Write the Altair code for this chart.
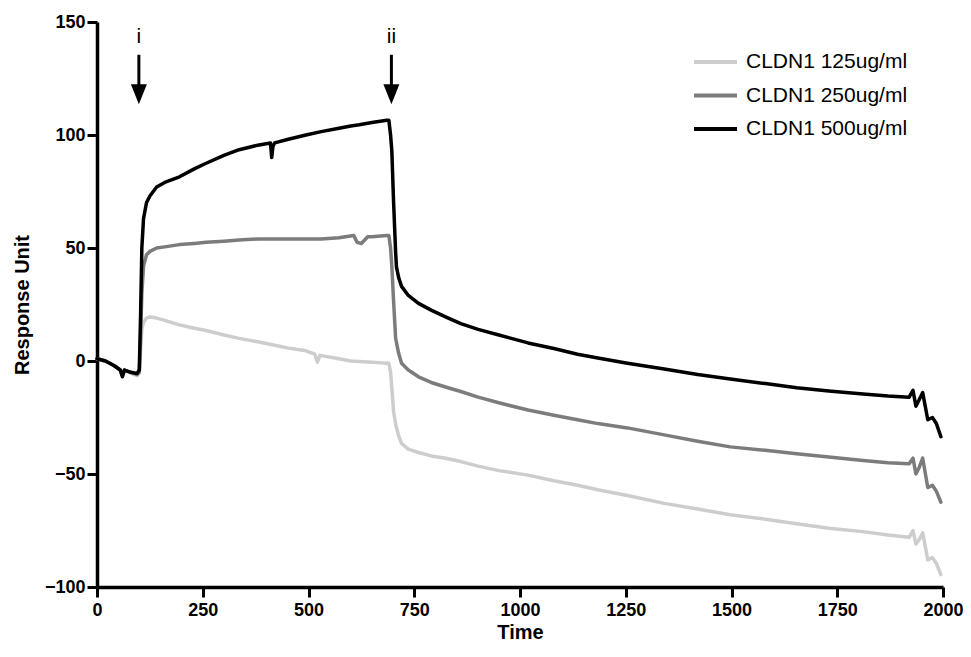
import altair as alt
import pandas as pd

SERIES = ["CLDN1 125ug/ml", "CLDN1 250ug/ml", "CLDN1 500ug/ml"]
COLORS = ["#cdcdcd", "#7c7c7c", "#000000"]

t125 = [0, 20, 40, 55, 60, 65, 80, 95, 100, 103, 106, 110, 117, 125, 141, 160, 195, 230, 258, 300,
        336, 380, 420, 450, 494, 515, 521, 527, 572, 600, 650, 685, 690, 694, 697, 701, 706, 713, 720, 736,
        760, 790, 824, 860, 901, 950, 1019, 1080, 1136, 1184, 1254, 1341, 1420, 1497, 1580, 1654, 1730, 1811, 1870, 1920,
        1929, 1936, 1944, 1952, 1964, 1975, 1984, 1995]
v125 = [1, 0, -2, -4, -6, -4, -5.5, -6.5, -5, 5, 14, 17, 19, 19.5, 19, 18, 16, 14.5, 13.5, 11.5,
        10, 8.5, 7, 5.8, 4.5, 3, -0.5, 2.5, 1, 0, -0.5, -1, -1, -5, -12, -22, -28, -33, -36.5, -39,
        -40.5, -42, -43, -44.5, -46.5, -48.5, -50.5, -53, -55, -57, -59.5, -63, -65.5, -68, -70, -72, -74, -75.5, -77, -78,
        -75, -81, -79, -76, -88, -87, -89.5, -94.5]

t250 = [0, 20, 40, 55, 60, 65, 80, 95, 100, 103, 106, 110, 117, 125, 141, 160, 195, 230, 258, 300,
        336, 380, 420, 450, 494, 530, 572, 607, 615, 625, 640, 650, 685, 690, 694, 697, 701, 706, 713, 720,
        736, 760, 790, 824, 860, 901, 950, 1019, 1080, 1136, 1184, 1254, 1341, 1420, 1497, 1580, 1654, 1730, 1811, 1870,
        1920, 1929, 1936, 1944, 1952, 1964, 1975, 1984, 1995]
v250 = [1, 0, -2, -4, -6, -4, -5, -6, -5, 10, 30, 42, 47, 48.5, 50, 50.5, 51.5, 52, 52.5, 53,
        53.5, 54, 54, 54, 54, 54, 54.5, 55.5, 52.5, 52, 55, 55, 55.5, 55.5, 50, 42, 27, 10, 3.5, -1,
        -4, -7, -9.5, -11.5, -13.5, -16, -18.5, -21.7, -24, -26, -27.7, -29.6, -32.7, -35.5, -38, -39.5, -41, -42.5, -44, -45,
        -45.5, -43, -50, -47, -43, -56, -55, -57.5, -62.5]

t500 = [0, 20, 40, 55, 60, 65, 80, 95, 100, 103, 106, 110, 117, 125, 141, 160, 195, 230, 258, 300,
        336, 380, 410, 413, 416, 420, 450, 494, 530, 572, 600, 620, 650, 685, 690, 694, 697, 701, 706, 708,
        713, 720, 736, 760, 790, 824, 860, 901, 950, 1019, 1080, 1136, 1184, 1254, 1341, 1420, 1497, 1580, 1654, 1730,
        1811, 1870, 1920, 1929, 1936, 1944, 1952, 1964, 1975, 1984, 1995]
v500 = [1, 0, -2, -4, -7, -4, -5, -5.5, -4, 20, 50, 63, 70, 73, 77, 79, 81.5, 85, 87.5, 91,
        93.5, 95.5, 96.5, 90, 95, 96.5, 98, 100, 101.5, 103, 104, 104.5, 105.5, 106.5, 106.5, 100, 93, 71, 48, 41.5,
        37, 33, 29, 25.5, 22.5, 19.5, 16.5, 14, 11.5, 8, 5.5, 3, 1.3, -1, -3.5, -6, -8, -10, -11.8, -13.3,
        -14.6, -15.5, -16, -13, -20, -17, -14, -26, -25, -27.5, -33.5]

X_TICKS = [0, 250, 500, 750, 1000, 1250, 1500, 1750, 2000]
Y_TICKS = [-100, -50, 0, 50, 100, 150]

ARROW_LABELS = ["i", "ii"]
ARROW_X = [99, 696]
ARROW_TOP = [135.5, 135.5]
ARROW_BOTTOM = [120.5, 120.5]
ARROW_HEAD = [118, 118]
LABEL_Y = [140.5, 140.5]

rows = []
for name, ts, vs in zip(SERIES, [t125, t250, t500], [v125, v250, v500]):
    for i, (t, v) in enumerate(zip(ts, vs)):
        rows.append({"series": name, "time": t, "ru": v, "idx": i})
df = pd.DataFrame(rows)

arrows = pd.DataFrame({"label": ARROW_LABELS, "x": ARROW_X, "top": ARROW_TOP,
                       "bottom": ARROW_BOTTOM, "head": ARROW_HEAD, "ly": LABEL_Y})

xscale = alt.Scale(domain=[0, 2000], nice=False, zero=False)
yscale = alt.Scale(domain=[-100, 150], nice=False, zero=False)

lines = alt.Chart(df).mark_line(strokeWidth=3.5, strokeJoin="round", strokeCap="round").encode(
    x=alt.X("time:Q", scale=xscale,
            axis=alt.Axis(values=X_TICKS, title="Time", labelFlush=False, labelPadding=4,
                          titlePadding=3, format="d")),
    y=alt.Y("ru:Q", scale=yscale,
            axis=alt.Axis(values=Y_TICKS, title="Response Unit", labelPadding=2, titlePadding=12)),
    color=alt.Color("series:N", scale=alt.Scale(domain=SERIES, range=COLORS),
                    legend=alt.Legend(title=None, orient="none", legendX=595, legendY=29,
                                      symbolType="stroke", symbolSize=1849, symbolStrokeWidth=4,
                                      labelFontSize=21, labelFont="Liberation Sans", labelColor="black",
                                      labelFontWeight="normal", labelLimit=400,
                                      clipHeight=22, rowPadding=11.5, labelOffset=7)),
    order="idx:Q",
)

shafts = alt.Chart(arrows).mark_rule(color="black", strokeWidth=3).encode(
    x="x:Q", y="top:Q", y2="bottom:Q"
)
heads = alt.Chart(arrows).mark_point(
    shape="M-0.8,-1L0.8,-1L0,1Z", filled=True, color="black", opacity=1, size=400
).encode(x="x:Q", y="head:Q")
labels = alt.Chart(arrows).mark_text(
    font="Liberation Sans", fontSize=21, color="black", baseline="alphabetic", align="center"
).encode(x="x:Q", y="ly:Q", text="label:N")

chart = alt.layer(lines, shafts, heads, labels).properties(
    width=846, height=565,
    background="white",
    autosize=alt.AutoSizeParams(type="none"),
    padding={"left": 89, "top": 14, "right": 20, "bottom": 55},
).configure_view(stroke=None).configure_axis(
    grid=False, domainColor="black", domainWidth=3.5, tickColor="black", tickWidth=3, tickSize=10,
    labelFont="Liberation Sans", labelFontWeight="bold", labelFontSize=18, labelColor="black",
    titleFont="Liberation Sans", titleFontWeight="bold", titleFontSize=20, titleColor="black",
)

chart.save("out.html", embed_options={"renderer": "svg", "actions": False})
